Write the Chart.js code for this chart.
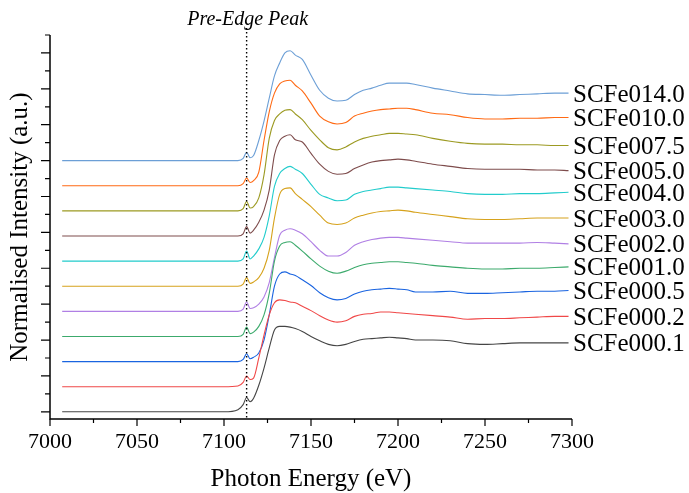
<!DOCTYPE html>
<html>
<head>
<meta charset="utf-8">
<script src="https://cdn.jsdelivr.net/npm/chart.js@4"></script>
<style>
  html, body { margin: 0; padding: 0; background: #fff; }
  #wrap { width: 689px; height: 493px; }
</style>
</head>
<body>
<div id="wrap"><canvas id="xanesChart" width="689" height="493"></canvas></div>
<script>
// photon energy grid (eV)
const energy = [7007, 7050, 7100, 7108, 7111, 7113, 7115, 7117, 7120, 7123, 7126, 7129,
    7132, 7135, 7138, 7141, 7145, 7150, 7155, 7160, 7165, 7170, 7175, 7180,
    7185, 7190, 7195, 7200, 7205, 7210, 7220, 7230, 7240, 7250, 7260, 7270,
    7280, 7290, 7298];

// normalised spectra (edge step = 1)
const scfe0001 = [0, 0, 0, 0.03, 0.10, 0.20, 0.14, 0.19, 0.37, 0.61, 0.89, 1.14,
    1.19, 1.19, 1.18, 1.16, 1.12, 1.05, 0.99, 0.94, 0.92, 0.94, 0.98, 1.01,
    1.02, 1.03, 1.04, 1.03, 1.02, 1.00, 1.00, 0.99, 0.95, 0.94, 0.95, 0.96,
    0.96, 0.96, 0.96];
const scfe0002 = [0, 0, 0, 0.01, 0.06, 0.15, 0.10, 0.12, 0.40, 0.72, 1.00, 1.17,
    1.21, 1.20, 1.18, 1.17, 1.12, 1.06, 0.99, 0.93, 0.90, 0.92, 0.98, 1.01,
    1.02, 1.04, 1.04, 1.03, 1.02, 1.01, 0.99, 0.97, 0.94, 0.95, 0.95, 0.96,
    0.97, 0.98, 0.98];
const scfe0005 = [0, 0, 0, 0, 0.03, 0.11, 0.04, 0.06, 0.12, 0.30, 0.65, 1.05,
    1.22, 1.25, 1.22, 1.20, 1.14, 1.06, 0.96, 0.89, 0.86, 0.88, 0.94, 0.98,
    1.00, 1.01, 1.02, 1.01, 1.00, 0.97, 0.97, 0.98, 0.95, 0.95, 0.96, 0.97,
    0.98, 0.98, 0.99];
const scfe0010 = [0, 0, 0, 0, 0.03, 0.13, 0.04, 0.06, 0.14, 0.30, 0.60, 1.05,
    1.26, 1.31, 1.32, 1.27, 1.19, 1.08, 0.98, 0.91, 0.88, 0.91, 0.96, 1.00,
    1.02, 1.03, 1.04, 1.04, 1.03, 1.02, 0.99, 0.97, 0.95, 0.94, 0.94, 0.95,
    0.95, 0.96, 0.97];
const scfe0020 = [0, 0, 0, 0, 0.03, 0.13, 0.04, 0.05, 0.10, 0.20, 0.40, 0.75,
    1.06, 1.13, 1.15, 1.13, 1.08, 0.97, 0.85, 0.77, 0.77, 0.82, 0.92, 0.97,
    1.00, 1.02, 1.03, 1.03, 1.02, 1.01, 0.99, 0.97, 0.95, 0.95, 0.95, 0.95,
    0.96, 0.95, 0.94];
const scfe0030 = [0, 0, 0, 0, 0.03, 0.12, 0.04, 0.06, 0.12, 0.25, 0.50, 0.95,
    1.28, 1.36, 1.37, 1.29, 1.21, 1.11, 0.99, 0.88, 0.86, 0.88, 0.95, 0.99,
    1.02, 1.04, 1.05, 1.06, 1.05, 1.03, 1.00, 0.97, 0.94, 0.93, 0.93, 0.94,
    0.95, 0.95, 0.95];
const scfe0040 = [0, 0, 0, 0, 0.03, 0.14, 0.03, 0.07, 0.17, 0.33, 0.63, 1.04,
    1.22, 1.29, 1.32, 1.28, 1.22, 1.07, 0.93, 0.88, 0.84, 0.85, 0.93, 0.97,
    0.99, 1.01, 1.03, 1.03, 1.02, 1.01, 0.99, 0.97, 0.94, 0.93, 0.93, 0.94,
    0.94, 0.95, 0.96];
const scfe0050 = [0, 0, 0, 0, 0.03, 0.13, 0.04, 0.08, 0.19, 0.36, 0.64, 1.13,
    1.33, 1.39, 1.41, 1.34, 1.31, 1.15, 1.00, 0.90, 0.86, 0.87, 0.94, 0.99,
    1.03, 1.05, 1.06, 1.07, 1.06, 1.04, 1.00, 0.97, 0.94, 0.93, 0.93, 0.93,
    0.92, 0.92, 0.91];
const scfe0075 = [0, 0, 0, 0, 0.03, 0.13, 0.04, 0.06, 0.18, 0.50, 1.01, 1.26,
    1.35, 1.40, 1.41, 1.35, 1.27, 1.12, 0.99, 0.88, 0.85, 0.89, 0.96, 1.01,
    1.04, 1.06, 1.08, 1.08, 1.07, 1.06, 1.01, 0.97, 0.94, 0.93, 0.93, 0.92,
    0.92, 0.91, 0.91];
const scfe0100 = [0, 0, 0, 0, 0.03, 0.107, 0.046, 0.07, 0.19, 0.63, 1.03, 1.29,
    1.42, 1.46, 1.47, 1.40, 1.32, 1.15, 0.97, 0.89, 0.86, 0.88, 0.97, 1.01,
    1.04, 1.06, 1.07, 1.08, 1.08, 1.06, 1.01, 0.99, 0.95, 0.93, 0.93, 0.94,
    0.94, 0.95, 0.95];
const scfe0140 = [0, 0, 0, 0, 0.03, 0.115, 0.04, 0.07, 0.28, 0.55, 0.87, 1.18,
    1.36, 1.50, 1.53, 1.47, 1.41, 1.19, 0.98, 0.87, 0.83, 0.84, 0.92, 0.98,
    1.01, 1.05, 1.08, 1.08, 1.08, 1.06, 1.01, 0.97, 0.93, 0.92, 0.91, 0.92,
    0.93, 0.94, 0.94];

const sampleNames = ["SCFe000.1", "SCFe000.2", "SCFe000.5", "SCFe001.0", "SCFe002.0", "SCFe003.0",
    "SCFe004.0", "SCFe005.0", "SCFe007.5", "SCFe010.0", "SCFe014.0"];
const spectra = [scfe0001, scfe0002, scfe0005, scfe0010, scfe0020, scfe0030,
    scfe0040, scfe0050, scfe0075, scfe0100, scfe0140];
const stackOffsets = [0, 0.35, 0.70, 1.05, 1.40, 1.75, 2.10, 2.45, 2.80, 3.15, 3.50];
const lineColors = ["#454545", "#f04848", "#1a64e0", "#3caa6c", "#b07fe4", "#d6a21c",
    "#22cccc", "#7e4c4c", "#9c9a22", "#ff6a14", "#6c9fd6"];

const xTickLabels = [7000, 7050, 7100, 7150, 7200, 7250, 7300];
const preEdgeEnergy = 7113;

const serif = "'Liberation Serif', 'DejaVu Serif', serif";

const datasets = spectra.map((s, i) => ({
    label: sampleNames[i],
    data: s.map((v, j) => ({ x: energy[j], y: v + stackOffsets[i] })),
    borderColor: lineColors[i],
    borderWidth: 1.1,
    pointRadius: 0,
    showLine: true,
    cubicInterpolationMode: "monotone"
}));

// axes, minor ticks, dotted marker and sample labels
const decorations = {
    id: "decorations",
    afterDraw(chart) {
        const ctx = chart.ctx;
        const xs = chart.scales.x;
        const ys = chart.scales.y;
        const area = chart.chartArea;
        ctx.save();
        ctx.strokeStyle = "#000";
        ctx.lineWidth = 1.5;
        ctx.beginPath();
        ctx.moveTo(area.left, area.top);
        ctx.lineTo(area.left, area.bottom);
        ctx.lineTo(area.right, area.bottom);
        ctx.stroke();

        ctx.lineWidth = 1.2;
        ctx.beginPath();
        for (let e = 7000; e <= 7300; e += 25) {
            const px = xs.getPixelForValue(e);
            const len = e % 50 === 0 ? 7 : 4;
            ctx.moveTo(px, area.bottom);
            ctx.lineTo(px, area.bottom + len);
        }
        for (let k = 0; k <= 21; k++) {
            const py = ys.getPixelForValue(k * 0.25);
            const len = k % 2 === 0 ? 9 : 5;
            ctx.moveTo(area.left, py);
            ctx.lineTo(area.left - len, py);
        }
        ctx.stroke();

        // pre-edge marker
        const mx = xs.getPixelForValue(preEdgeEnergy);
        ctx.setLineDash([1.5, 2.5]);
        ctx.lineWidth = 1.4;
        ctx.beginPath();
        ctx.moveTo(mx, 28);
        ctx.lineTo(mx, area.bottom);
        ctx.stroke();
        ctx.setLineDash([]);

        ctx.fillStyle = "#000";
        ctx.font = "italic 20px " + serif;
        ctx.textAlign = "center";
        ctx.textBaseline = "middle";
        ctx.fillText("Pre-Edge Peak", mx + 1, 20);

        // sample names at the line ends
        ctx.font = "25px " + serif;
        ctx.textAlign = "left";
        spectra.forEach((s, i) => {
            const py = ys.getPixelForValue(s[s.length - 1] + stackOffsets[i]);
            ctx.fillText(sampleNames[i], area.right + 1, py + 2);
        });
        ctx.restore();
    }
};

new Chart(document.getElementById("xanesChart"), {
    type: "scatter",
    data: { datasets: datasets },
    options: {
        responsive: false,
        animation: false,
        layout: { padding: { top: 35, right: 117, left: 0, bottom: 0 } },
        plugins: { legend: { display: false }, tooltip: { enabled: false } },
        scales: {
            x: {
                type: "linear",
                min: 7000,
                max: 7300,
                border: { display: false },
                grid: { display: false, drawTicks: false },
                afterFit: (s) => { s.height = 74; },
                afterBuildTicks: (s) => { s.ticks = xTickLabels.map(v => ({ value: v })); },
                ticks: {
                    autoSkip: false,
                    maxRotation: 0,
                    padding: 10,
                    color: "#000",
                    font: { family: serif, size: 22 },
                    callback: (v) => String(v)
                },
                title: {
                    display: true,
                    text: "Photon Energy (eV)",
                    color: "#000",
                    font: { family: serif, size: 25, lineHeight: 1 },
                    padding: { top: 0, bottom: 1 }
                }
            },
            y: {
                min: -0.1,
                max: 5.25,
                border: { display: false },
                grid: { display: false, drawTicks: false },
                afterFit: (s) => { s.width = 50; },
                ticks: { display: false },
                title: {
                    display: true,
                    text: "Normalised Intensity (a.u.)",
                    color: "#000",
                    font: { family: serif, size: 25, lineHeight: 1 },
                    padding: { top: 7.5, bottom: 0 }
                }
            }
        }
    },
    plugins: [decorations]
});
</script>
</body>
</html>
